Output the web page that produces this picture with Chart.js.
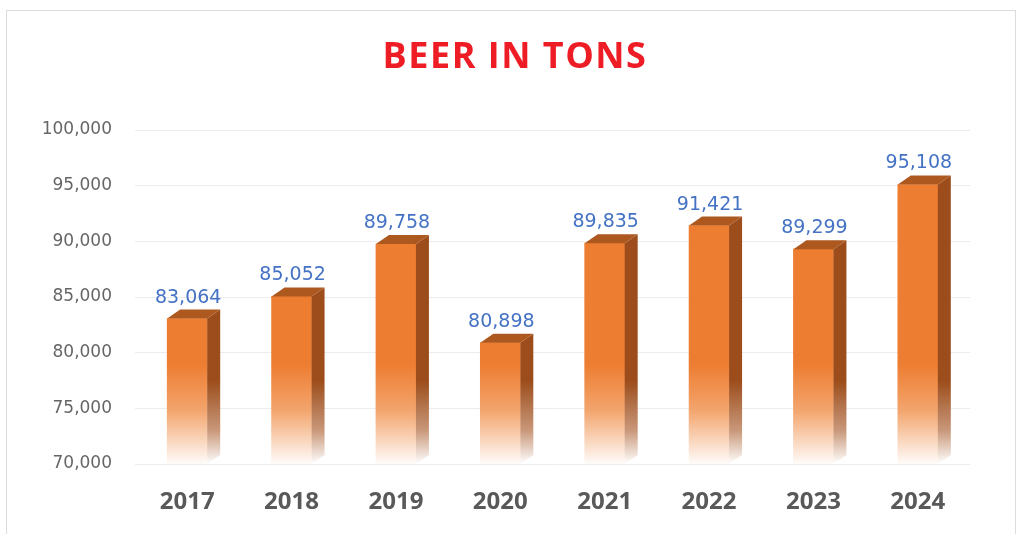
<!DOCTYPE html>
<html>
<head>
<meta charset="utf-8">
<script src="https://cdn.jsdelivr.net/npm/chart.js@4.4.1/dist/chart.umd.min.js"></script>
<style>
  html, body { margin:0; padding:0; background:#fff; }
  #wrap { position:relative; width:1023px; height:534px; }
  #frame { position:absolute; left:6px; top:10px; width:1010px; height:530px; border:1px solid #dcdcdc; box-sizing:border-box; pointer-events:none; }
</style>
</head>
<body>
<div id="wrap">
  <canvas id="c" width="1023" height="534"></canvas>
  <div id="frame"></div>
</div>
<script>
const titleText = "BEER IN TONS";
const categories = ["2017","2018","2019","2020","2021","2022","2023","2024"];
const beerTons = [83064, 85052, 89758, 80898, 89835, 91421, 89299, 95108];
const yMin = 70000, yMax = 100000, yStep = 5000;

const DX = 13, DY = 9;

function frontGradient(ctx) {
  const chart = ctx.chart;
  const ys = chart.scales.y;
  if (!ys || !chart.chartArea) return '#ED7D31';
  const top = ys.getPixelForValue(79000), bot = chart.chartArea.bottom + 2;
  const g = chart.ctx.createLinearGradient(0, top, 0, bot);
  g.addColorStop(0, '#ED7D31');
  g.addColorStop(0.45, '#F3A46C');
  g.addColorStop(1, '#FFFFFF');
  return g;
}

const bar3d = {
  id: 'bar3d',
  afterDatasetsDraw(chart) {
    const ctx = chart.ctx;
    const meta = chart.getDatasetMeta(0);
    const ys = chart.scales.y;
    const sTop = ys.getPixelForValue(77500), sBot = chart.chartArea.bottom;
    meta.data.forEach((bar, i) => {
      const p = bar.getProps(['x','y','base','width'], true);
      const L = p.x - p.width/2, R = p.x + p.width/2, y = p.y;
      const b = Math.min(p.base, chart.chartArea.bottom);
      // side face
      const sg = ctx.createLinearGradient(0, sTop, 0, sBot);
      sg.addColorStop(0, '#9C4D1B');
      sg.addColorStop(0.6, '#C9987A');
      sg.addColorStop(1, '#FFFFFF');
      ctx.save();
      ctx.fillStyle = sg;
      ctx.beginPath();
      ctx.moveTo(R, y); ctx.lineTo(R+DX, y-DY); ctx.lineTo(R+DX, b-DY); ctx.lineTo(R, b);
      ctx.closePath(); ctx.fill();
      // top face
      ctx.fillStyle = '#AD581F';
      ctx.beginPath();
      ctx.moveTo(L, y); ctx.lineTo(L+DX, y-DY); ctx.lineTo(R+DX, y-DY); ctx.lineTo(R, y);
      ctx.closePath(); ctx.fill();
      // label
      ctx.fillStyle = '#4472C4';
      ctx.font = '19px "DejaVu Sans"';
      ctx.textAlign = 'center';
      ctx.textBaseline = 'alphabetic';
      ctx.fillText(beerTons[i].toLocaleString('en-US'), p.x + 1, y - DY - 7);
      ctx.restore();
    });
  },
  afterDraw(chart) {
    const ctx = chart.ctx;
    ctx.save();
    ctx.fillStyle = '#EE1C25';
    ctx.font = 'bold 36px "Open Sans"';
    try { ctx.letterSpacing = '1.5px'; } catch (e) {}
    ctx.textAlign = 'center';
    ctx.textBaseline = 'middle';
    ctx.fillText(titleText, 515, 58);
    ctx.restore();
  }
};

new Chart(document.getElementById('c'), {
  type: 'bar',
  data: {
    labels: categories,
    datasets: [{
      data: beerTons,
      backgroundColor: frontGradient,
      borderWidth: 0,
      barThickness: 40
    }]
  },
  options: {
    responsive: false,
    animation: false,
    layout: { padding: { top: 130, right: 53, bottom: 0, left: 0 } },
    plugins: { legend: { display: false }, title: { display: false }, tooltip: { enabled: false } },
    scales: {
      x: {
        grid: { display: false, drawTicks: false },
        border: { display: false },
        ticks: { color: '#595959', font: { family: 'Open Sans', weight: 'bold', size: 24 }, padding: 24 },
        afterFit(s) { s.height = 70; }
      },
      y: {
        min: yMin, max: yMax,
        grid: { color: '#ececec', drawTicks: false },
        border: { display: false },
        ticks: {
          stepSize: yStep,
          color: '#666666',
          padding: 23,
          font: { family: 'DejaVu Sans', size: 17 },
          callback: v => v.toLocaleString('en-US')
        },
        afterFit(s) { s.width = 135; }
      }
    }
  },
  plugins: [bar3d]
});
</script>
</body>
</html>
